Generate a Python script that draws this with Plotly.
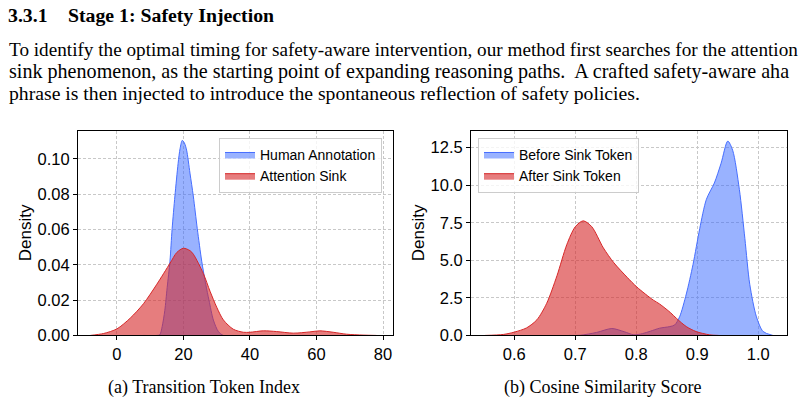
import plotly.graph_objects as go

# ---------------- data ----------------
# (a) Transition Token Index
human_x = [8, 12, 12.9, 13.6, 14.4, 15.1, 15.94, 16.6, 17.44, 18.4, 19.0, 19.65, 20.3, 20.95,
           21.96, 22.96, 24.16, 25.5, 26.7, 27.7, 29.0, 30.5, 32, 35]
human_y = [0, 0, 0.0004, 0.005, 0.0142, 0.027, 0.042, 0.0605, 0.079, 0.0975, 0.106, 0.1105, 0.109,
           0.105, 0.092, 0.079, 0.0605, 0.042, 0.029, 0.0198, 0.0087, 0.0022, 0.0, 0]
sink_x = [-8, -4, 0, 4, 8, 12, 16, 18, 20, 22, 23, 26, 28, 30, 32, 35, 38, 40, 44, 48, 53, 58, 61,
          65, 69, 74, 78]
sink_y = [0, 0.0011, 0.0037, 0.0098, 0.018, 0.029, 0.041, 0.047, 0.0494, 0.048, 0.046, 0.035, 0.025,
          0.016, 0.0088, 0.0035, 0.0018, 0.0018, 0.0026, 0.0022, 0.0013, 0.002, 0.0026, 0.0018,
          0.0007, 0.0002, 0]

# (b) Cosine Similarity Score
before_x = [0.69, 0.708, 0.735, 0.76, 0.78, 0.796, 0.81, 0.823, 0.838, 0.855, 0.863, 0.871, 0.882,
            0.893, 0.904, 0.915, 0.928, 0.939, 0.95, 0.958, 0.969, 0.978, 0.986, 0.997, 1.008, 1.024]
before_y = [0, 0.01, 0.2, 0.46, 0.25, 0.04, 0.12, 0.28, 0.48, 0.59, 0.7, 1.24, 2.76, 4.72, 7.11,
            9.07, 10.15, 11.46, 12.94, 12.33, 9.72, 6.46, 3.41, 1.24, 0.26, 0]
after_x = [0.552, 0.582, 0.6, 0.62, 0.637, 0.653, 0.67, 0.686, 0.7, 0.713, 0.727, 0.746, 0.763,
           0.785, 0.801, 0.828, 0.838, 0.856, 0.866, 0.882, 0.898, 0.92, 0.935]
after_y = [0, 0.065, 0.22, 0.5, 1.04, 2.13, 3.98, 6.04, 7.24, 7.63, 7.24, 5.83, 4.85, 3.87, 3.22,
           2.35, 2.1, 1.52, 1.13, 0.59, 0.26, 0.04, 0]

left_xticks = [0, 20, 40, 60, 80]
left_yticks = [0.00, 0.02, 0.04, 0.06, 0.08, 0.10]
right_xticks = [0.6, 0.7, 0.8, 0.9, 1.0]
right_yticks = [0.0, 2.5, 5.0, 7.5, 10.0, 12.5]

heading_num = "3.3.1"
heading = "Stage 1: Safety Injection"
body = [
    "To identify the optimal timing for safety-aware intervention, our method first searches for the attention",
    "sink phenomenon, as the starting point of expanding reasoning paths.  A crafted safety-aware aha",
    "phrase is then injected to introduce the spontaneous reflection of safety policies.",
]
body_sizes = [19.2, 20.1, 19.7]
captions = ["(a) Transition Token Index", "(b) Cosine Similarity Score"]

# ---------------- styles ----------------
BLUE_FILL = "rgba(51,102,255,0.5)"
BLUE_LINE = "rgb(70,110,255)"
RED_FILL = "rgba(214,39,40,0.6)"
RED_LINE = "rgb(214,39,40)"
W, H = 805, 408
SANS = "Liberation Sans, Arial, sans-serif"
SERIF = "Liberation Serif, Times New Roman, serif"

fig = go.Figure()

def kde(x, y, name, fill, line, xa, ya, legend):
    fig.add_trace(go.Scatter(
        x=x, y=y, name=name, mode="lines", fill="tozeroy", fillcolor=fill,
        line=dict(color=line, width=1, shape="spline", smoothing=0.8),
        xaxis=xa, yaxis=ya, legend=legend, hoverinfo="skip"))

kde(human_x, human_y, "Human Annotation", BLUE_FILL, BLUE_LINE, "x", "y", "legend")
kde(sink_x, sink_y, "Attention Sink", RED_FILL, RED_LINE, "x", "y", "legend")
kde(before_x, before_y, "Before Sink Token", BLUE_FILL, BLUE_LINE, "x2", "y2", "legend2")
kde(after_x, after_y, "After Sink Token", RED_FILL, RED_LINE, "x2", "y2", "legend2")

ydom = [1 - 343 / H, 1 - 134 / H]
axis_common = dict(showline=True, linecolor="black", linewidth=1, mirror=True,
                   ticks="outside", ticklen=4, tickcolor="black",
                   showgrid=True, gridcolor="#c8c8c8", griddash="3px,2px", gridwidth=0.8,
                   zeroline=False, tickfont=dict(family=SANS, size=16.5, color="black"))

fig.update_layout(
    width=W, height=H, margin=dict(l=0, r=0, t=0, b=0),
    paper_bgcolor="white", plot_bgcolor="white",
    xaxis=dict(domain=[78 / W, 393 / W], range=[-11.7, 83], tickvals=left_xticks,
               anchor="y", **axis_common),
    yaxis=dict(domain=ydom, range=[0, 0.1158], tickvals=left_yticks,
               tickformat=".2f", anchor="x", **axis_common),
    xaxis2=dict(domain=[471 / W, 786.7 / W], range=[0.529, 1.0466], tickvals=right_xticks,
                tickformat=".1f", anchor="y2", **axis_common),
    yaxis2=dict(domain=ydom, range=[0, 13.61], tickvals=right_yticks,
                tickformat=".1f", anchor="x2", **axis_common),
    legend=dict(x=219 / W, y=1 - 141 / H, xanchor="left", yanchor="top",
                bgcolor="rgba(255,255,255,0.8)", bordercolor="#cccccc", borderwidth=1,
                font=dict(family=SANS, size=14, color="black"), tracegroupgap=0),
    legend2=dict(x=478 / W, y=1 - 141 / H, xanchor="left", yanchor="top",
                 bgcolor="rgba(255,255,255,0.8)", bordercolor="#cccccc", borderwidth=1,
                 font=dict(family=SANS, size=14, color="black"), tracegroupgap=0),
    showlegend=True,
)

ann = []
ann.append(dict(text="<b>" + heading_num + "</b>", x=6 / W, y=1 - 15 / H, xanchor="left",
                yanchor="middle", font=dict(family=SERIF, size=19.8, color="black")))
ann.append(dict(text="<b>" + heading + "</b>", x=66 / W, y=1 - 15 / H, xanchor="left",
                yanchor="middle", font=dict(family=SERIF, size=19.8, color="black")))
for i, line in enumerate(body):
    ann.append(dict(text=line, x=7 / W, y=1 - (51 + 22 * i) / H, xanchor="left",
                    yanchor="middle", font=dict(family=SERIF, size=body_sizes[i], color="black")))
ann.append(dict(text=captions[0], x=204 / W, y=1 - 396 / H, xanchor="center", yanchor="middle",
                font=dict(family=SERIF, size=18, color="black")))
ann.append(dict(text=captions[1], x=602 / W, y=1 - 396 / H, xanchor="center", yanchor="middle",
                font=dict(family=SERIF, size=18, color="black")))
ann.append(dict(text="Density", x=25 / W, y=1 - 238.5 / H, xanchor="center", yanchor="middle",
                textangle=-90, font=dict(family=SANS, size=17, color="black")))
ann.append(dict(text="Density", x=418 / W, y=1 - 238.5 / H, xanchor="center", yanchor="middle",
                textangle=-90, font=dict(family=SANS, size=17, color="black")))
for a in ann:
    a.update(xref="paper", yref="paper", showarrow=False)
fig.update_layout(annotations=ann)

fig.write_html("out.html")
